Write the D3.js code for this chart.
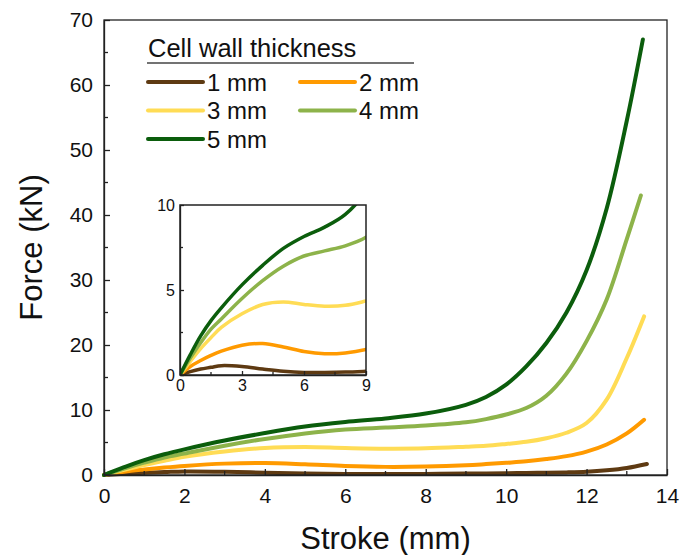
<!DOCTYPE html>
<html><head><meta charset="utf-8">
<script src="https://cdn.jsdelivr.net/npm/d3@7"></script>
<style>body{margin:0;background:#fff}svg{display:block;font-family:"Liberation Sans",Arial,sans-serif}</style>
</head><body>
<svg id="c" width="683" height="555"></svg>
<script>
const stroke = [0,0.5,1,1.5,2,3,4,5,6,7,8,9,9.5,10,10.5,11,11.5,12,12.5,13];
const endStroke = [13.5,13.43,13.43,13.35,13.4];
const f1mm = [0,0.2,0.35,0.45,0.55,0.5,0.35,0.22,0.15,0.15,0.17,0.22,0.25,0.28,0.31,0.35,0.4,0.5,0.72,1.08,1.7];
const f2mm = [0,0.5,0.85,1.15,1.4,1.75,1.85,1.65,1.38,1.25,1.3,1.5,1.68,1.88,2.1,2.45,2.9,3.6,4.7,6.4,8.5];
const f3mm = [0,0.8,1.55,2.2,2.8,3.6,4.15,4.3,4.15,4.05,4.1,4.35,4.5,4.78,5.1,5.65,6.5,8.0,11.6,18.0,24.4];
const f4mm = [0,1.0,1.9,2.7,3.3,4.5,5.55,6.4,7.0,7.3,7.6,8.1,8.6,9.3,10.3,12.2,15.6,20.6,27.0,36.3,43];
const f5mm = [0,1.2,2.3,3.2,3.95,5.3,6.45,7.45,8.15,8.7,9.45,10.8,12.0,13.9,16.7,20.3,25.0,31.5,41.0,54.5,67];
const seriesNames = ["1 mm","2 mm","3 mm","4 mm","5 mm"];
const seriesColors = ["#5e3a12","#ff9a00","#ffdc55","#8db34a","#0b5d0c"];
const xTicks = [0,2,4,6,8,10,12,14];
const yTicks = [0,10,20,30,40,50,60,70];
const insetXTicks = [0,3,6,9];
const insetYTicks = [0,5,10];

const seriesVals = [f1mm,f2mm,f3mm,f4mm,f5mm];
const series = seriesNames.map((n,i)=>({name:n,color:seriesColors[i],
  pts:stroke.concat([endStroke[i]]).map((x,j)=>[x,seriesVals[i][j]])}));

const svg = d3.select("#c");
const M = {l:104,r:667,t:20,b:475};
const x = d3.scaleLinear().domain([0,14]).range([M.l,M.r]);
const y = d3.scaleLinear().domain([0,70]).range([M.b,M.t]);

const line = d3.line().x(d=>x(d[0])).y(d=>y(d[1])).curve(d3.curveCatmullRom.alpha(0.5));
svg.append("g").selectAll("path").data(series).join("path")
  .attr("d",d=>line(d.pts)).attr("fill","none").attr("stroke",d=>d.color)
  .attr("stroke-width",4).attr("stroke-linecap","round");

function styleAxis(g){g.selectAll("path,line").attr("stroke","#222").attr("stroke-width",1.3);g.selectAll("text").attr("fill","#111");}
const xAx = svg.append("g").attr("transform",`translate(0,${M.b})`)
  .call(d3.axisBottom(x).tickValues(xTicks).tickSize(-6).tickPadding(13).tickSizeOuter(0));
xAx.selectAll("text").attr("font-size",21);
xAx.append("g").selectAll("line").data(d3.range(1,14,2)).join("line")
  .attr("x1",d=>x(d)).attr("x2",d=>x(d)).attr("y1",0).attr("y2",-4);
styleAxis(xAx);
const yAx = svg.append("g").attr("transform",`translate(${M.l},0)`)
  .call(d3.axisLeft(y).tickValues(yTicks).tickSize(-6).tickPadding(11).tickSizeOuter(0));
yAx.selectAll("text").attr("font-size",21);
yAx.append("g").selectAll("line").data(d3.range(5,70,10)).join("line")
  .attr("y1",d=>y(d)).attr("y2",d=>y(d)).attr("x1",0).attr("x2",4);
styleAxis(yAx);
svg.append("rect").attr("x",M.l).attr("y",M.t).attr("width",M.r-M.l).attr("height",M.b-M.t)
  .attr("fill","none").attr("stroke","#222").attr("stroke-width",1.3);

svg.append("text").attr("x",(M.l+M.r)/2).attr("y",549).attr("text-anchor","middle")
  .attr("font-size",31).attr("fill","#111").text("Stroke (mm)");
svg.append("text").attr("transform",`translate(42,${(M.t+M.b)/2}) rotate(-90)`).attr("text-anchor","middle")
  .attr("font-size",31).attr("fill","#111").text("Force (kN)");

const lg = svg.append("g");
lg.append("text").attr("x",148).attr("y",57).attr("font-size",25.5).attr("fill","#111").text("Cell wall thickness");
lg.append("line").attr("x1",147).attr("x2",414).attr("y1",63).attr("y2",63).attr("stroke","#444").attr("stroke-width",1.3);
const items = lg.selectAll("g.it").data(series).join("g")
  .attr("transform",(d,i)=>`translate(${i%2===0?148:300},${82+Math.floor(i/2)*28.5})`);
items.append("line").attr("x1",0).attr("x2",55).attr("stroke",d=>d.color).attr("stroke-width",4).attr("stroke-linecap","round");
items.append("text").attr("x",59).attr("y",8.5).attr("font-size",24).attr("fill","#111").text(d=>d.name);

const I = {l:180,r:366,t:205,b:375};
const xi = d3.scaleLinear().domain([0,9]).range([I.l,I.r]);
const yi = d3.scaleLinear().domain([0,10]).range([I.b,I.t]);
svg.append("defs").append("clipPath").attr("id","ic").append("rect")
  .attr("x",I.l).attr("y",I.t).attr("width",I.r-I.l).attr("height",I.b-I.t);
svg.append("rect").attr("x",I.l).attr("y",I.t).attr("width",I.r-I.l).attr("height",I.b-I.t).attr("fill","#fff");
const lineI = d3.line().x(d=>xi(d[0])).y(d=>yi(d[1])).curve(d3.curveCatmullRom.alpha(0.5));
svg.append("g").attr("clip-path","url(#ic)").selectAll("path").data(series).join("path")
  .attr("d",d=>lineI(d.pts)).attr("fill","none").attr("stroke",d=>d.color).attr("stroke-width",3.5);
const xiAx = svg.append("g").attr("transform",`translate(0,${I.b})`)
  .call(d3.axisBottom(xi).tickValues(insetXTicks).tickSize(-4).tickPadding(5).tickSizeOuter(0));
xiAx.selectAll("text").attr("font-size",16);
xiAx.append("g").selectAll("line").data([1.5,4.5,7.5]).join("line")
  .attr("x1",d=>xi(d)).attr("x2",d=>xi(d)).attr("y1",0).attr("y2",-3);
styleAxis(xiAx);
const yiAx = svg.append("g").attr("transform",`translate(${I.l},0)`)
  .call(d3.axisLeft(yi).tickValues(insetYTicks).tickSize(-4).tickPadding(5).tickSizeOuter(0));
yiAx.selectAll("text").attr("font-size",16);
yiAx.append("g").selectAll("line").data([2.5,7.5]).join("line")
  .attr("y1",d=>yi(d)).attr("y2",d=>yi(d)).attr("x1",0).attr("x2",3);
styleAxis(yiAx);
svg.append("rect").attr("x",I.l).attr("y",I.t).attr("width",I.r-I.l).attr("height",I.b-I.t)
  .attr("fill","none").attr("stroke","#222").attr("stroke-width",1.5);
</script>
</body></html>
